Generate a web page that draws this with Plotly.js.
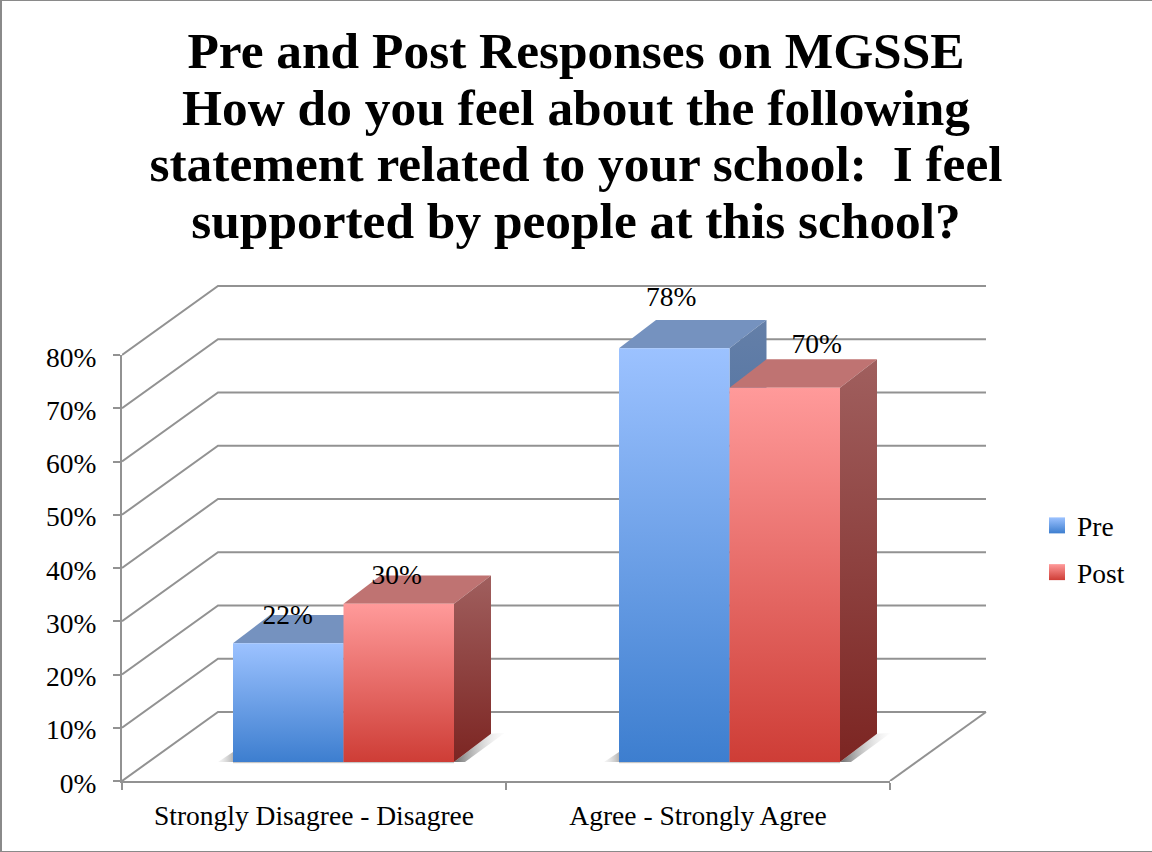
<!DOCTYPE html>
<html>
<head>
<meta charset="utf-8">
<script src="https://cdn.plot.ly/plotly-3.0.1.min.js"></script>
<style>
html,body{margin:0;padding:0;background:#fff;overflow:hidden}
#chart{position:absolute;left:0;top:0;width:1152px;height:852px}
#frame{position:absolute;left:0;top:0;width:1152px;height:852px;box-sizing:border-box;border-left:2px solid #8a8a8a;border-top:1px solid #8a8a8a;border-bottom:1px solid #8a8a8a;pointer-events:none}
</style>
</head>
<body>
<div id="chart"></div>
<div id="frame"></div>
<script>
const categories = ["Strongly Disagree - Disagree", "Agree - Strongly Agree"];
const preValues = [22.3, 77.7];
const postValues = [29.7, 70.3];
const yTicks = [0, 10, 20, 30, 40, 50, 60, 70, 80];
const titleLines = ["Pre and Post Responses on MGSSE",
  "How do you feel about the following",
  "statement related to your school:&nbsp;&nbsp;I feel",
  "supported by people at this school?"];

// Plot-frame scale (pixels per axis unit), used only to express the pseudo-3D offsets
const pxX = 384, pxY = 5.325;
const plotW = 870, plotH = 500;                  // outer drawing area holding the back wall
const wallDx = 96 / pxX, wallDy = 69 / pxY;      // back wall offset
const baseDx = [29.5 / pxX, 31.5 / pxX], baseDy = 19 / pxY; // bars stand this far in on the floor
const barW = 110.5 / pxX;
const depthDx = 37 / pxX, depthDy = 28.3 / pxY;  // bar depth
// label nudges, per series and category, in pixels
const preLabelNudge = [[-0.5, 26], [-3, 49]];
const postLabelNudge = [[-2, 27], [32, 42]];

const gridColor = "#929292";
const styles = {
  Pre:  {top: "#7592BF", frontHi: "#9CC2FF", frontLo: "#3D7ECF", sideHi: "#647FA8", sideLo: "#2C5A94"},
  Post: {top: "#BF7372", frontHi: "#FF9A9A", frontLo: "#CE3D36", sideHi: "#A05F5E", sideLo: "#7C2522"}
};

const traces = [];
const common = {hoverinfo: "skip", showlegend: false, cliponaxis: false, xaxis: "x2", yaxis: "y2"};

// walls and floor
const gx = [], gy = [];
yTicks.forEach(v => {
  gx.push(0, wallDx, 2 + wallDx, null);
  gy.push(v, v + wallDy, v + wallDy, null);
});
gx.push(2, 2 + wallDx); gy.push(0, wallDy);
traces.push(Object.assign({}, common, {type: "scatter", mode: "lines", x: gx, y: gy,
  line: {color: gridColor, width: 2}}));

function poly(x, y, extra) {
  traces.push(Object.assign({}, common, {type: "scatter", mode: "lines", x, y,
    fill: "toself", line: {width: 0}}, extra));
}

// shadows and bars
function grad(type, a, b) {
  return {type, colorscale: [[0, a], [1, b]]};
}
const seriesList = [["Pre", preValues, 0], ["Post", postValues, 1]];

categories.forEach((c, i) => {
  const x0 = i + baseDx[i] + 0.5 - barW;
  const x2 = x0 + 2 * barW;
  // floor shadows
  poly([x2, x2 + depthDx, x2 + depthDx + 14 / pxX, x2 + 11 / pxX],
       [baseDy, baseDy + depthDy, baseDy + depthDy + 1 / pxY, baseDy],
       {fillgradient: grad("horizontal", "rgba(70,70,70,0.8)", "rgba(220,220,220,0.05)")});
  poly([x0 - 15 / pxX, x0, x0], [baseDy, baseDy + 10 / pxY, baseDy],
       {fillgradient: grad("horizontal", "rgba(210,210,210,0.2)", "rgba(130,130,130,0.6)")});
  poly([x0, x2, x2, x0], [baseDy, baseDy, baseDy - 2.2 / pxY, baseDy - 2.2 / pxY],
       {fillgradient: grad("vertical", "rgba(255,255,255,0)", "rgba(120,120,120,0.7)")});
});

seriesList.forEach(([name, vals, k]) => {
  const s = styles[name];
  vals.forEach((v, i) => {
    const xl = i + baseDx[i] + 0.5 - barW + k * barW, xr = xl + barW;
    const yb = baseDy, yt = baseDy + v;
    poly([xl, xr, xr + depthDx, xl + depthDx], [yt, yt, yt + depthDy, yt + depthDy],
         {fillcolor: s.top});
    poly([xr, xr + depthDx, xr + depthDx, xr], [yb, yb + depthDy, yt + depthDy, yt],
         {fillgradient: grad("vertical", s.sideLo, s.sideHi)});
    poly([xl, xr, xr, xl], [yb, yb, yt, yt],
         {fillgradient: grad("vertical", s.frontLo, s.frontHi)});
  });
});

// data labels
seriesList.forEach(([name, vals, k]) => {
  const nudges = k === 0 ? preLabelNudge : postLabelNudge;
  traces.push(Object.assign({}, common, {type: "scatter", mode: "text",
    x: vals.map((v, i) => i + baseDx[i] + 0.5 - barW + k * barW + barW / 2 + nudges[i][0] / pxX),
    y: vals.map((v, i) => baseDy + v + nudges[i][1] / pxY),
    text: vals.map(v => Math.round(v) + "%"),
    textposition: "middle center",
    textfont: {family: "Liberation Serif", size: 27.5, color: "#000"}}));
});

// legend entries (these also keep the front axes drawn)
[["Pre", "#9CC2FF", "#3D7ECF"], ["Post", "#FF9A9A", "#CE3D36"]].forEach(([name, hi, lo]) => {
  traces.push({type: "scatter", mode: "markers", x: [null], y: [null], name,
    xaxis: "x", yaxis: "y",
    legendgroup: name, showlegend: true, hoverinfo: "skip",
    marker: {symbol: "square", size: 16, color: hi, gradient: {type: "vertical", color: lo}}});
});

const layout = {
  width: 1152, height: 852,
  margin: {l: 122, r: 1152 - 122 - plotW, t: 852 - 71 - plotH, b: 71, pad: 0},
  paper_bgcolor: "#fff", plot_bgcolor: "rgba(0,0,0,0)",
  font: {family: "Liberation Serif", color: "#000"},
  title: {
    text: titleLines.map(t => '<span style="font-size:51.4px">' + t + "</span>").join("<br>"),
    font: {family: "Liberation Serif", size: 43.5, color: "#000", weight: 700},
    x: 0.5, xref: "container", xanchor: "center",
    y: 0.92, yref: "container", yanchor: "top"
  },
  xaxis: {
    type: "linear", range: [0, 2], domain: [0, 2 * pxX / plotW], anchor: "y",
    fixedrange: true, showgrid: false, zeroline: false,
    showline: true, linecolor: gridColor, linewidth: 2,
    tickmode: "array", tickvals: [0.5, 1.5], ticktext: categories, ticks: "",
    tickfont: {family: "Liberation Serif", size: 27.5, color: "#000"},
    ticklabelstandoff: 9,
    minor: {tickmode: "array", tickvals: [0, 1, 2], ticks: "outside", ticklen: 7, tickwidth: 2, tickcolor: gridColor, showgrid: false}
  },
  yaxis: {
    type: "linear", range: [0, 80], domain: [0, 80 * pxY / plotH], anchor: "x",
    fixedrange: true, showgrid: false, zeroline: false,
    showline: true, linecolor: gridColor, linewidth: 2,
    tickmode: "array", tickvals: yTicks, ticktext: yTicks.map(v => v + "%"),
    ticks: "outside", ticklen: 7, tickwidth: 2, tickcolor: gridColor,
    tickfont: {family: "Liberation Serif", size: 27.5, color: "#000"},
    ticklabelstandoff: 11, ticklabelshift: 2
  },
  xaxis2: {type: "linear", range: [0, plotW / pxX], domain: [0, 1], anchor: "y2", visible: false, fixedrange: true},
  yaxis2: {type: "linear", range: [0, plotH / pxY], domain: [0, 1], anchor: "x2", visible: false, fixedrange: true},
  legend: {
    x: 1037 / 1152, xref: "container", y: 1 - 501 / 852, yref: "container", yanchor: "top", xanchor: "left",
    font: {family: "Liberation Serif", size: 27.5, color: "#000"},
    tracegroupgap: 8, bgcolor: "rgba(0,0,0,0)", borderwidth: 0
  },
  showlegend: true
};
Plotly.newPlot("chart", traces, layout, {displayModeBar: false, staticPlot: true});
</script>
</body>
</html>
